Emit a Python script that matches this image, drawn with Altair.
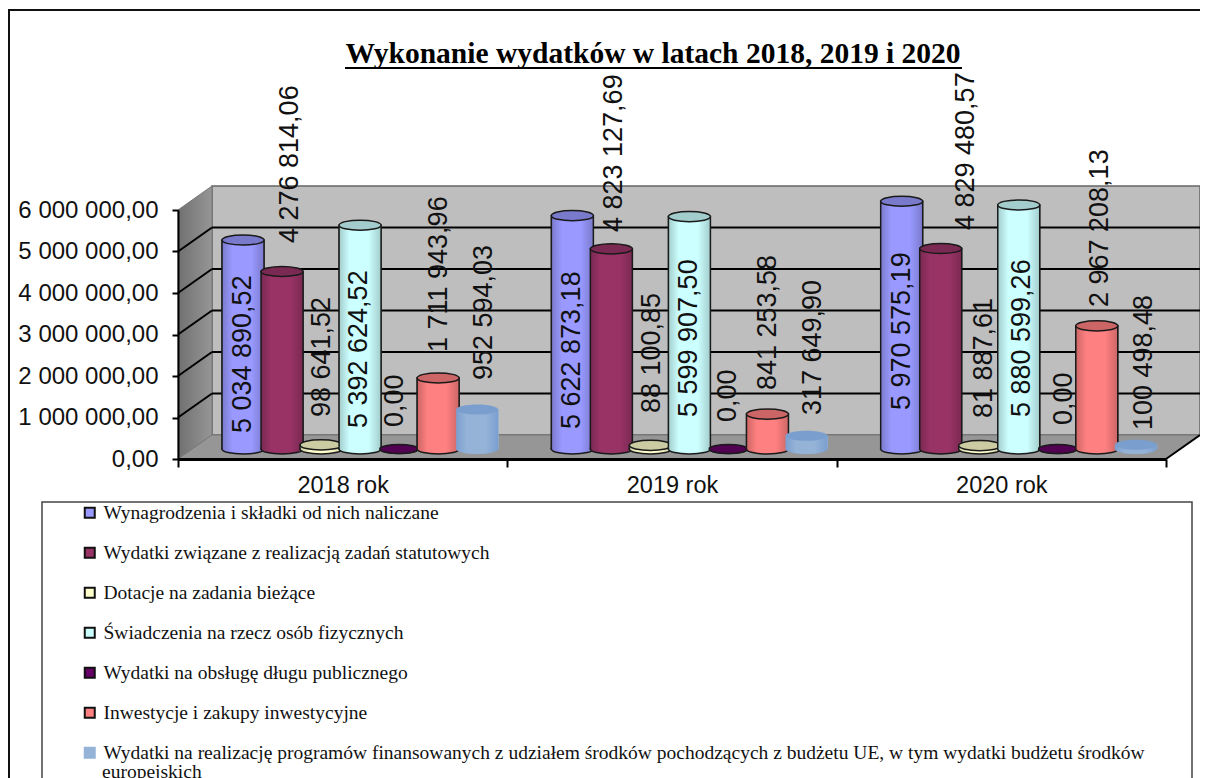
import altair as alt
import pandas as pd

# ---------- data ----------
YEARS = ["2018 rok", "2019 rok", "2020 rok"]
SERIES = [
    "Wynagrodzenia i składki od nich naliczane",
    "Wydatki związane z realizacją zadań statutowych",
    "Dotacje na zadania bieżące",
    "Świadczenia na rzecz osób fizycznych",
    "Wydatki na obsługę długu publicznego",
    "Inwestycje i zakupy inwestycyjne",
    "Wydatki na realizację programów finansowanych z udziałem środków pochodzących z budżetu UE, w tym wydatki budżetu środków",
]
V_WYNAGRODZENIA = [5034890.52, 5622873.18, 5970575.19]
V_STATUTOWE = [4276814.06, 4823127.69, 4829480.57]
V_DOTACJE = [98641.52, 88100.85, 81887.61]
V_SWIADCZENIA = [5392624.52, 5599907.50, 5880599.26]
V_DLUG = [0.0, 0.0, 0.0]
V_INWESTYCJE = [1711943.96, 841253.58, 2967208.13]
V_UE = [952594.03, 317649.90, 100498.48]
VALUES = [V_WYNAGRODZENIA, V_STATUTOWE, V_DOTACJE, V_SWIADCZENIA, V_DLUG, V_INWESTYCJE, V_UE]
TICKS = [0, 1000000, 2000000, 3000000, 4000000, 5000000, 6000000]
TITLE = "Wykonanie wydatków w latach 2018, 2019 i 2020"
LAST_LINE = "europejskich"

# ---------- styling ----------
BODY = ["#9999FF", "#993366", "#FFFFCC", "#CCFFFF", "#660066", "#FF8080", "#95B3D7"]
EDGE = ["#7A7ACC", "#7A2952", "#CCCCA3", "#A3CCCC", "#520052", "#CC6666", "#7A9FCF"]
LEGEND_STROKE = ["#111", "#111", "#111", "#111", "#111", "#111", "#95B3D7"]
OUTLINE = "#1a1a1a"
SANS, SERIF = "Liberation Sans", "Liberation Serif"
W, H = 988, 249
DEPTH_X, DEPTH_Y = 34, 24
LIFT = -10
BAR_W = 42

# hand-placed data labels, as in the original: sideways nudge and page y where the text starts
LABEL_DX = [[0, 0, 0], [8, 3, 25], [1, 2, 4], [-1, 0, 3], [-4, 0, 6], [1, 1, 3], [7, 7, 8]]
LABEL_START = [[433, 429, 410], [243, 232, 230], [417, 413, 418], [428, 417, 417],
               [427, 422, 425], [352, 390, 307], [380, 415, 430]]

ELLIPSE = "M -1 0 A 1 0.24 0 1 0 1 0 A 1 0.24 0 1 0 -1 0 Z"
LOWER_FILL = "M -1 -0.08 L -1 0 A 1 0.24 0 0 0 1 0 L 1 -0.08 Z"
LOWER_ARC = "M -1 -0.08 L -1 0 A 1 0.24 0 0 0 1 0 L 1 -0.08"


def pl(v):
    return f"{v:,.2f}".replace(",", " ").replace(".", ",")


rows = [
    {"year": y, "series": s, "value": VALUES[i][j], "base": 0, "label": pl(VALUES[i][j])}
    for i, s in enumerate(SERIES)
    for j, y in enumerate(YEARS)
]
df = pd.DataFrame(rows)
one = pd.DataFrame({"a": [0]})

x_scale = alt.Scale(type="band", domain=YEARS, paddingInner=0, paddingOuter=0)
x_ax = alt.Axis(tickBand="extent", labelAngle=0, labelFont=SANS, labelFontSize=23.5,
                labelColor="#111", labelPadding=6, tickSize=8, tickColor="#000",
                tickWidth=2, domainColor="#000", domainWidth=3, zindex=1, title=None)
x_enc = alt.X("year:N", sort=YEARS, scale=x_scale, axis=x_ax)
xo = alt.XOffset("series:N", scale=alt.Scale(domain=SERIES, paddingInner=0, paddingOuter=0.72, align=0.81))
y_scale = alt.Scale(domain=[0, 6000000], nice=False)
y_ax = alt.Axis(values=TICKS, grid=False, labelFont=SANS, labelFontSize=24, labelColor="#111",
                labelPadding=14, tickSize=6, tickColor="#000", tickWidth=2,
                domainColor="#000", domainWidth=2, zindex=1, title=None,
                labelExpr="datum.value == 0 ? '0,00' : format(datum.value / 1000000, 'd') + ' 000 000,00'")
y_enc = alt.Y("value:Q", scale=y_scale, axis=y_ax)
y_base = alt.Y("base:Q", scale=y_scale, axis=y_ax)


def path(d, **kw):
    return alt.Chart(one).mark_point(shape=d, size=4, opacity=1, **kw).encode(
        x=alt.value(0), y=alt.value(0))


layers = []

# page frame and legend box
layers.append(alt.Chart(one).mark_rect(fill="white", stroke="#111", strokeWidth=2).encode(
    x=alt.value(-169), x2=alt.value(1100), y=alt.value(-200), y2=alt.value(800)))
layers.append(alt.Chart(one).mark_rect(fill="white", stroke="#444", strokeWidth=1.5).encode(
    x=alt.value(-136), x2=alt.value(1014), y=alt.value(292), y2=alt.value(800)))

# 3-D box: back wall, side wall, floor
layers.append(alt.Chart(one).mark_rect(fill="#BEBEBE", stroke="#666", strokeWidth=1.5).encode(
    x=alt.value(DEPTH_X), x2=alt.value(W + DEPTH_X), y=alt.value(-DEPTH_Y), y2=alt.value(H - DEPTH_Y)))
side_grad = alt.LinearGradient(gradient="linear", x1=0, x2=1, y1=0, y2=0,
                               stops=[alt.GradientStop(color="#707070", offset=0),
                                      alt.GradientStop(color="#969696", offset=1)])
layers.append(path(f"M0 {H} L{DEPTH_X} {H-DEPTH_Y} L{DEPTH_X} {-DEPTH_Y} L0 0 Z", filled=True, fill=side_grad, stroke="#777", strokeWidth=1))
layers.append(path(f"M0 {H} L{DEPTH_X} {H-DEPTH_Y} L{W+DEPTH_X} {H-DEPTH_Y} L{W} {H} Z", filled=True, fill="#969696", stroke="#777", strokeWidth=1))
layers.append(alt.Chart(pd.DataFrame({"value": TICKS[1:-1]})).mark_rule(
    color="#000", strokeWidth=2, yOffset=-DEPTH_Y).encode(
    y=y_enc, x=alt.value(DEPTH_X), x2=alt.value(W + DEPTH_X)))
diagonals = " ".join(f"M0 {H - H * k / 6:.1f} L{DEPTH_X} {H - H * k / 6 - DEPTH_Y:.1f}" for k in range(1, 6))
layers.append(path(diagonals, filled=False, stroke="#000", strokeWidth=2))
layers.append(path(f"M{W} {H} L{W+DEPTH_X} {H-DEPTH_Y}", filled=False, stroke="#000", strokeWidth=2))

# title with its underline
layers.append(alt.Chart(pd.DataFrame({"t": [TITLE]})).mark_text(
    font=SERIF, fontSize=29.5, fontWeight="bold", color="#000", align="center", baseline="alphabetic").encode(
    x=alt.value(475), y=alt.value(-147), text="t:N"))
layers.append(alt.Chart(one).mark_rule(color="#000", strokeWidth=2).encode(
    x=alt.value(167), x2=alt.value(784), y=alt.value(-142)))

# base bars carry the legend
layers.append(alt.Chart(df).mark_bar(size=BAR_W, yOffset=LIFT, y2Offset=LIFT, strokeWidth=1).encode(
    x=x_enc, xOffset=xo, y=y_enc, y2="base:Q",
    fill=alt.Fill("series:N", sort=SERIES, scale=alt.Scale(domain=SERIES, range=BODY),
                  legend=alt.Legend(title=None, orient="none", legendX=-98, legendY=293, direction="vertical",
                                    symbolType="square", symbolSize=100, symbolStrokeWidth=2,
                                    labelFont=SERIF, labelFontSize=19.5, labelColor="#111", labelLimit=1200,
                                    labelOffset=4, rowPadding=19, padding=0, columns=1)),
    stroke=alt.Stroke("series:N", sort=SERIES, scale=alt.Scale(domain=SERIES, range=LEGEND_STROKE), legend=None),
))

# cylinders, drawn in series order so that each overlaps the one before it
for i, s in enumerate(SERIES):
    sel = df[df["series"] == s]
    grad = alt.LinearGradient(gradient="linear", x1=0, x2=1, y1=0, y2=0,
                              stops=[alt.GradientStop(color=EDGE[i], offset=0),
                                     alt.GradientStop(color=BODY[i], offset=0.25),
                                     alt.GradientStop(color=BODY[i], offset=0.7),
                                     alt.GradientStop(color=EDGE[i], offset=1)])
    line = {} if i == 6 else {"stroke": OUTLINE, "strokeWidth": 1.5}
    width = 38 if i == 4 else BAR_W
    base = alt.Chart(sel)
    layers.append(base.mark_bar(size=width, fill=grad, yOffset=LIFT, y2Offset=LIFT, **line).encode(
        x=x_enc, xOffset=xo, y=y_enc, y2="base:Q"))
    layers.append(base.mark_point(shape=LOWER_FILL, size=width ** 2, filled=True, opacity=1, fill=grad, strokeWidth=0, yOffset=LIFT).encode(
        x=x_enc, xOffset=xo, y=y_base))
    if i != 6:
        layers.append(base.mark_point(shape=LOWER_ARC, size=width ** 2, filled=False, opacity=1, yOffset=LIFT, **line).encode(
            x=x_enc, xOffset=xo, y=y_base))
    layers.append(base.mark_point(shape=ELLIPSE, size=width ** 2, filled=True, opacity=1, fill=EDGE[i], yOffset=LIFT, **line).encode(
        x=x_enc, xOffset=xo, y=y_enc))

# data labels on top of everything
for i, s in enumerate(SERIES):
    for j, yr in enumerate(YEARS):
        v = VALUES[i][j]
        at = 8 + 202 + H - v * H / 6000000
        layers.append(alt.Chart(df[(df["series"] == s) & (df["year"] == yr)]).mark_text(
            angle=270, align="left", baseline="middle", font=SANS, fontSize=27, color="#111",
            dy=LABEL_DX[i][j], yOffset=LABEL_START[i][j] - at).encode(
            x=x_enc, xOffset=xo, y=y_enc, text="label:N"))

# wrapped end of the last legend entry
layers.append(alt.Chart(pd.DataFrame({"t": [LAST_LINE]})).mark_text(
    align="left", baseline="middle", font=SERIF, fontSize=19.5, color="#111").encode(
    x=alt.value(-76), y=alt.value(562), text="t:N"))

chart = alt.layer(*layers).properties(
    width=W, height=H,
    padding={"left": 170, "top": 202, "right": 34, "bottom": 319},
    autosize=alt.AutoSizeParams(type="none"),
    background="white",
).resolve_scale(x="shared", y="shared").configure_view(stroke=None)

chart.save("out.html", embed_options={"renderer": "svg", "actions": False})
